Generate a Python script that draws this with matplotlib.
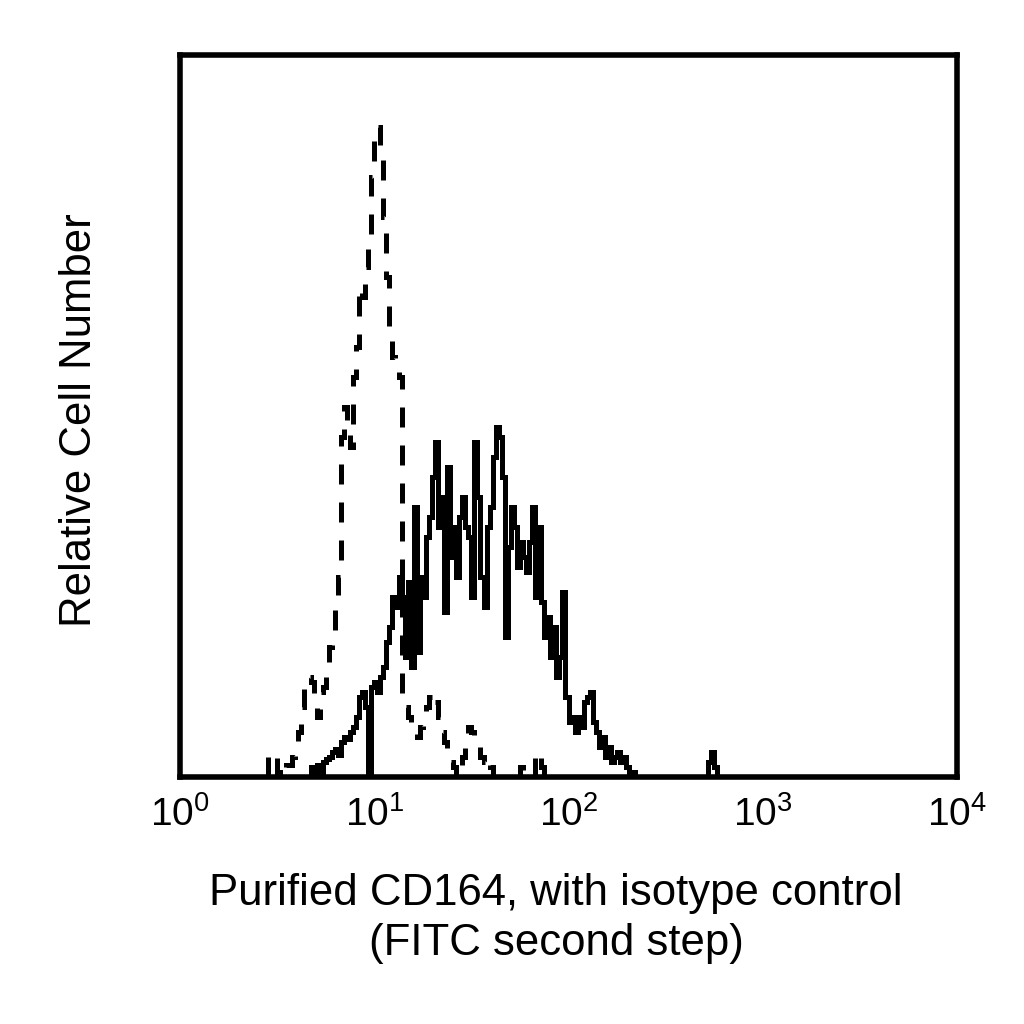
import numpy as np
import matplotlib
matplotlib.use("Agg")
import matplotlib.pyplot as plt

plt.rcParams['font.family'] = ['Liberation Sans', 'DejaVu Sans']
plt.rcParams['mathtext.fontset'] = 'custom'
plt.rcParams['mathtext.rm'] = 'Liberation Sans'
plt.rcParams['mathtext.it'] = 'Liberation Sans'

# 256 channels across 4 decades (10^0 .. 10^4)
n_channels = 256
decades = 4

# Isotype control (dashed) – counts per channel starting at channel 29
iso_start = 29
iso_counts = [22, 24, 24, 5, 0, 10, 12, 12, 20, 35, 45, 70, 100, 100, 95, 80, 60,
              85, 90, 110, 130, 140, 175, 200, 340, 370, 350, 330, 400, 430, 490,
              480, 510, 540, 600, 640, 650, 620, 560, 500, 440, 420, 410, 400,
              75, 70, 60, 50, 45, 40, 50, 60, 70, 80, 85, 75, 60, 45, 35, 25, 15,
              10, 0, 5, 20, 30, 50, 45, 40, 30, 20, 15, 20, 10, 0, 0, 0, 0, 0, 0,
              0, 0, 0, 10, 0, 0, 0, 0, 20, 25, 10, 0]

# Purified CD164 (solid) – counts per channel starting at channel 43
cd_start = 43
cd_counts = [10, 5, 12, 0, 15, 18, 20, 25, 28, 22, 35, 40, 38, 45, 50, 60, 80, 85,
             70, 0, 90, 95, 85, 100, 110, 135, 150, 180, 170, 200, 180, 120, 195,
             110, 270, 125, 200, 180, 240, 260, 300, 335, 250, 280, 165, 310, 220,
             250, 200, 260, 280, 250, 240, 180, 335, 280, 200, 170, 250, 270, 320,
             350, 340, 300, 140, 230, 270, 250, 210, 235, 220, 205, 235, 270, 180,
             250, 175, 140, 160, 120, 150, 100, 120, 185, 80, 55, 60, 45, 60, 50,
             75, 80, 85, 55, 45, 30, 40, 20, 30, 15, 20, 25, 15, 20, 10, 5, 5, 0]
cd_spike_start = 174
cd_spike = [15, 25, 10, 0]

xtick_vals = [1, 10, 100, 1000, 10000]
xtick_labels = [r'$10^{0}$', r'$10^{1}$', r'$10^{2}$', r'$10^{3}$', r'$10^{4}$']

xlabel_lines = ['Purified CD164, with isotype control', '(FITC second step)']
ylabel = 'Relative Cell Number'


def edges_for(start, n):
    ch = np.arange(start, start + n + 1)
    return 10 ** (ch * decades / n_channels)


fig = plt.figure(figsize=(10.24, 10.24), dpi=100)
ax = fig.add_axes([180 / 1024, 1 - 777 / 1024, 777 / 1024, 722 / 1024])

lw = 3.6
ax.stairs(iso_counts, edges_for(iso_start, len(iso_counts)), baseline=0,
          color='black', lw=lw, linestyle=(0, (4.0, 3.6)))
ax.stairs(cd_counts, edges_for(cd_start, len(cd_counts)), baseline=0,
          color='black', lw=lw)
ax.stairs(cd_spike, edges_for(cd_spike_start, len(cd_spike)), baseline=0,
          color='black', lw=lw)

ax.set_xscale('log')
ax.set_xlim(1, 10000)
ax.set_ylim(0, 722)
ax.set_xticks(xtick_vals)
ax.set_xticklabels(xtick_labels, fontsize=28)
ax.minorticks_off()
ax.tick_params(axis='x', length=0, pad=14)
ax.set_yticks([])
for s in ax.spines.values():
    s.set_linewidth(4.0)

fig.text(556 / 1024, 1 - 905 / 1024, xlabel_lines[0], fontsize=31.5,
         ha='center', va='baseline')
fig.text(556 / 1024, 1 - 955 / 1024, xlabel_lines[1], fontsize=31.5,
         ha='center', va='baseline')
fig.text(80 / 1024, 1 - 420 / 1024, ylabel, fontsize=31.5, rotation=90,
         ha='center', va='center')

fig.savefig('out.png', dpi=100)
